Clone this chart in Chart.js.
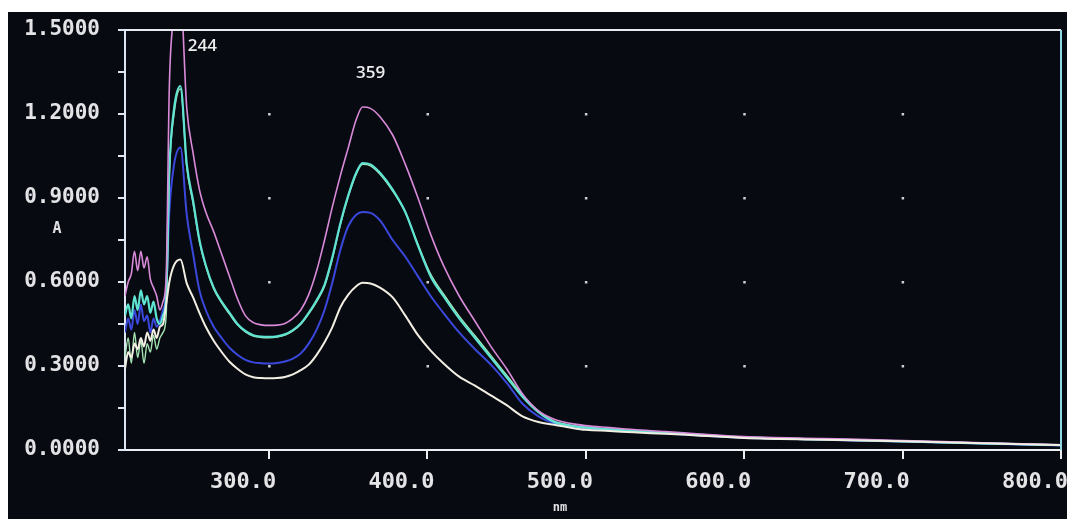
<!DOCTYPE html>
<html>
<head>
<meta charset="utf-8">
<script src="https://cdn.jsdelivr.net/npm/chart.js@4.4.1/dist/chart.umd.min.js"></script>
<style>
  html, body { margin: 0; padding: 0; background: #ffffff; }
  #screen { position: absolute; left: 8px; top: 12px; width: 1059px; height: 507px; background: #080a12; }
</style>
</head>
<body>
<div id="screen"><canvas id="myChart" width="1059" height="507"></canvas></div>
<script>
// wavelength grid (nm), shared by every scan
let wavelengths = [209, 211, 213, 215, 217, 219, 221, 223, 225, 227, 229, 231, 233, 235, 237, 240, 244,
  248, 252, 256, 260, 265, 270, 275, 280, 285, 290, 295, 300, 305, 310, 315, 320, 325, 330, 335, 340,
  345, 350, 355, 359, 364, 370, 378, 386, 394, 402, 410, 420, 430, 440, 450, 460, 470, 480, 490, 500,
  515, 530, 550, 570, 600, 650, 700, 750, 800];

// absorbance of each scan
let scan_magenta = [0.55, 0.60, 0.63, 0.71, 0.64, 0.71, 0.65, 0.69, 0.61, 0.58, 0.55, 0.50, 0.53, 0.62, 1.30, 1.55, 1.62,
  1.22, 1.06, 0.93, 0.85, 0.78, 0.70, 0.62, 0.54, 0.48, 0.455, 0.447, 0.445, 0.446, 0.452, 0.47, 0.50, 0.555, 0.64, 0.75, 0.87,
  0.98, 1.08, 1.18, 1.225, 1.22, 1.19, 1.125, 1.02, 0.90, 0.77, 0.66, 0.55, 0.46, 0.37, 0.29, 0.20, 0.14, 0.11, 0.095, 0.087,
  0.08, 0.073, 0.066, 0.058, 0.048, 0.041, 0.034, 0.026, 0.019];
let scan_cyan = [0.48, 0.52, 0.47, 0.55, 0.50, 0.57, 0.52, 0.55, 0.49, 0.53, 0.47, 0.45, 0.48, 0.55, 1.00, 1.22, 1.30,
  1.02, 0.89, 0.75, 0.66, 0.58, 0.53, 0.49, 0.45, 0.425, 0.41, 0.405, 0.404, 0.406, 0.413, 0.428, 0.452, 0.49, 0.535, 0.59, 0.69,
  0.81, 0.91, 0.99, 1.025, 1.02, 0.99, 0.93, 0.85, 0.73, 0.62, 0.55, 0.47, 0.40, 0.33, 0.26, 0.19, 0.135, 0.10, 0.087, 0.08,
  0.074, 0.068, 0.062, 0.055, 0.045, 0.038, 0.031, 0.024, 0.017];
let scan_green = [0.33, 0.40, 0.31, 0.42, 0.33, 0.39, 0.31, 0.38, 0.35, 0.41, 0.36, 0.40, 0.42, 0.48, 0.98, 1.20, 1.29,
  1.01, 0.88, 0.745, 0.655, 0.575, 0.525, 0.485, 0.447, 0.422, 0.407, 0.402, 0.401, 0.403, 0.41, 0.425, 0.449, 0.486, 0.53, 0.585, 0.685,
  0.805, 0.905, 0.985, 1.02, 1.015, 0.985, 0.925, 0.848, 0.735, 0.628, 0.558, 0.478, 0.408, 0.338, 0.267, 0.196, 0.14, 0.103, 0.089, 0.082,
  0.075, 0.069, 0.063, 0.056, 0.046, 0.039, 0.032, 0.025, 0.018];
let scan_blue = [0.42, 0.47, 0.43, 0.50, 0.45, 0.52, 0.46, 0.48, 0.42, 0.47, 0.44, 0.46, 0.50, 0.56, 0.85, 1.02, 1.08,
  0.84, 0.70, 0.57, 0.50, 0.44, 0.40, 0.365, 0.34, 0.322, 0.313, 0.31, 0.309, 0.311, 0.316, 0.326, 0.345, 0.38, 0.43, 0.50, 0.60,
  0.715, 0.80, 0.84, 0.85, 0.847, 0.82, 0.75, 0.69, 0.62, 0.55, 0.49, 0.42, 0.36, 0.305, 0.24, 0.165, 0.12, 0.095, 0.083, 0.077,
  0.072, 0.066, 0.06, 0.053, 0.044, 0.037, 0.030, 0.023, 0.016];
let scan_white = [0.29, 0.35, 0.33, 0.38, 0.36, 0.40, 0.37, 0.42, 0.39, 0.43, 0.40, 0.44, 0.45, 0.52, 0.60, 0.66, 0.68,
  0.595, 0.545, 0.49, 0.44, 0.39, 0.35, 0.315, 0.29, 0.27, 0.26, 0.257, 0.256, 0.257, 0.261, 0.27, 0.285, 0.305, 0.34, 0.385, 0.44,
  0.51, 0.555, 0.585, 0.597, 0.595, 0.58, 0.545, 0.48, 0.41, 0.355, 0.31, 0.262, 0.23, 0.195, 0.16, 0.12, 0.10, 0.09, 0.08, 0.072,
  0.068, 0.063, 0.058, 0.052, 0.043, 0.037, 0.031, 0.024, 0.018];

let x_ticks = [300, 400, 500, 600, 700, 800];
let y_ticks = [0, 0.15, 0.3, 0.45, 0.6, 0.75, 0.9, 1.05, 1.2, 1.35, 1.5];
let peak_labels = [244, 359];

function to_points(values) {
  return wavelengths.map((nm, i) => ({ x: nm, y: values[i] }));
}

function make_trace(values, color, width) {
  return {
    data: to_points(values),
    borderColor: color,
    borderWidth: width,
    pointRadius: 0,
    cubicInterpolationMode: "monotone",
    fill: false,
  };
}

let mono = "'DejaVu Sans Mono', 'Liberation Mono', monospace";

// dotted grid, frame, axis names and peak marks
let screen_plugin = {
  id: "screen_plugin",
  beforeDatasetsDraw(chart) {
    let ctx = chart.ctx;
    let xs = chart.scales.x;
    let ys = chart.scales.y;
    ctx.save();
    ctx.fillStyle = "#cfcfd4";
    x_ticks.slice(0, -1).forEach((xv) => {
      y_ticks.forEach((yv, i) => {
        if (i % 2 !== 0 || yv === 0 || yv === 1.5) return;
        let px = xs.getPixelForValue(xv);
        let py = ys.getPixelForValue(yv);
        ctx.fillRect(px - 1, py - 1, 2.5, 2.5);
      });
    });
    ctx.restore();
  },
  afterDraw(chart) {
    let ctx = chart.ctx;
    let area = chart.chartArea;
    let xs = chart.scales.x;
    let ys = chart.scales.y;
    ctx.save();
    // top and right edge of the plot frame
    ctx.lineWidth = 2;
    ctx.strokeStyle = "#e8ecf0";
    ctx.beginPath();
    ctx.moveTo(area.left, area.top);
    ctx.lineTo(area.right, area.top);
    ctx.stroke();
    ctx.strokeStyle = "#8fd8e6";
    ctx.beginPath();
    ctx.moveTo(area.right, area.top);
    ctx.lineTo(area.right, area.bottom);
    ctx.stroke();

    // axis names
    ctx.fillStyle = "#e0e0e4";
    ctx.textAlign = "center";
    ctx.textBaseline = "middle";
    ctx.font = "bold 15px " + mono;
    ctx.fillText("A", area.left - 68, ys.getPixelForValue(0.9) + 31);
    ctx.font = "bold 12px " + mono;
    ctx.fillText("nm", (area.left + area.right) / 2 - 33, area.bottom + 58);

    // peak wavelengths
    ctx.font = "600 17px 'Open Sans', 'Noto Sans', sans-serif";
    ctx.fillStyle = "#ececec";
    let shift = { 244: 22, 359: 8 };
    peak_labels.forEach((nm) => {
      let i = wavelengths.indexOf(nm);
      let top = Math.min(scan_magenta[i], 1.5);
      let py = Math.max(area.top + 16, ys.getPixelForValue(top) - 34);
      ctx.fillText(String(nm), xs.getPixelForValue(nm) + shift[nm], py);
    });
    ctx.restore();
  },
};

let ctx = document.getElementById("myChart").getContext("2d");
let myChart = new Chart(ctx, {
  type: "line",
  data: {
    datasets: [
      make_trace(scan_white, "#f2efe2", 2),
      make_trace(scan_magenta, "#d98ad9", 1.6),
      make_trace(scan_cyan, "#5fe3d2", 2.2),
      make_trace(scan_green, "#a6e6b4", 1.4),
      make_trace(scan_blue, "#3a48dc", 2),
    ],
  },
  options: {
    responsive: false,
    animation: false,
    events: [],
    layout: { padding: { top: 18, right: 6, left: 0, bottom: 0 } },
    plugins: { legend: { display: false }, tooltip: { enabled: false } },
    scales: {
      x: {
        type: "linear",
        min: 209,
        max: 800,
        afterBuildTicks: (scale) => {
          scale.ticks = x_ticks.map((v) => ({ value: v }));
        },
        afterFit: (scale) => {
          scale.height = 69;
          scale.paddingLeft = 0;
          scale.paddingRight = 0;
        },
        border: { display: true, color: "#eceff2", width: 2 },
        grid: { drawOnChartArea: false, drawTicks: true, tickLength: 9, color: "#eceff2", lineWidth: 2 },
        ticks: {
          maxRotation: 0,
          autoSkip: false,
          padding: 10,
          labelOffset: -26,
          color: "#e4e4e6",
          font: { family: mono, size: 22, weight: "bold" },
          callback: (v) => Number(v).toFixed(1),
        },
      },
      y: {
        min: 0,
        max: 1.5,
        afterBuildTicks: (scale) => {
          scale.ticks = y_ticks.map((v) => ({ value: v }));
        },
        afterFit: (scale) => {
          scale.width = 117;
          scale.paddingTop = 0;
          scale.paddingBottom = 0;
        },
        border: { display: true, color: "#dde6f2", width: 2 },
        grid: { drawOnChartArea: false, drawTicks: true, tickLength: 7, color: "#dde6f2", lineWidth: 2 },
        ticks: {
          autoSkip: false,
          padding: 18,
          color: "#e4e4e6",
          font: { family: mono, size: 21, weight: "bold" },
          callback: (v) => (Math.round(v / 0.15) % 2 === 0 ? Number(v).toFixed(4) : ""),
        },
      },
    },
  },
  plugins: [screen_plugin],
});
</script>
</body>
</html>
